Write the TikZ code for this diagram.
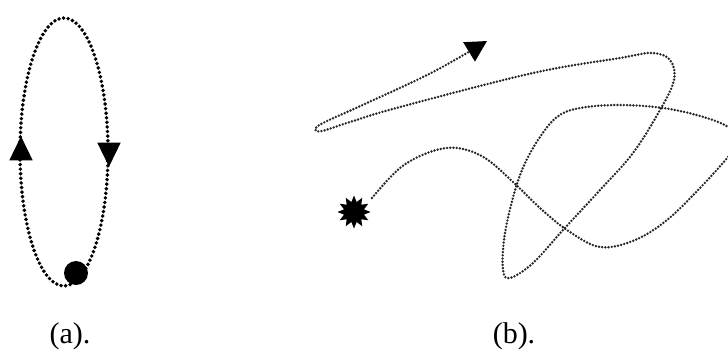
\documentclass[tikz,border=0pt]{standalone}
\usepackage{fontspec}
\setmainfont{Liberation Serif}
\newfontfamily\capfont{Liberation Serif}
\usetikzlibrary{arrows.meta, shapes.geometric}

\begin{document}
\begin{tikzpicture}[x=1pt, y=-1pt,
    bigdots/.style={line width=3.9pt, line cap=round, dash pattern=on 0pt off 4.6pt},
    finedots/.style={black!85, line width=2.7pt, line cap=round, dash pattern=on 0pt off 3.2pt},
    headtri/.style={isosceles triangle, isosceles triangle apex angle=52, fill, inner sep=0pt, minimum height=24pt},
    caption/.style={anchor=base, font=\capfont\fontsize{30}{34}\selectfont}]

  % =======================================================
  % FRAME
  % =======================================================
  \useasboundingbox (0,0) rectangle (728,351);
  \clip (0,0) rectangle (728,351);

  % =======================================================
  % (a) Closed orbit
  % =======================================================
  \draw[bigdots] (64,152) ellipse [x radius=44, y radius=134];
  \node (upHead) [headtri, shape border rotate=90] at (21,153) {};
  \node (downHead) [headtri, shape border rotate=-90] at (109,150) {};
  \node (body) [circle, fill, inner sep=0pt, minimum size=24pt] at (76,273) {};
  \node (capA) [caption] at (70,343) {(a).};

  % =======================================================
  % (b) Random walk
  % =======================================================
  \node (burst) [star, star points=12, star point ratio=1.6, fill, inner sep=0pt, minimum size=33pt] at (354,212) {};
  \draw[finedots, -{Triangle[length=21pt, width=22pt, black]}] plot[smooth, tension=0.6] coordinates {
      (372,198) (400,168) (430,152) (457,148) (485,158) (513,182) (540,208)
      (567,230) (600,247) (635,240) (667,220) (700,188) (728,157) (738,142)
      (728,127) (700,116) (663,108) (620,105) (580,108) (557,117) (538,140)
      (522,170) (511,205) (504,240) (503,270) (510,278) (533,263) (563,230)
      (600,190) (633,153) (660,110) (674,80) (670,60) (652,53) (620,58)
      (533,73) (400,107) (350,122) (322,131) (315,129) (325,122) (367,103)
      (433,72) (487,41)};
  \node (capB) [caption] at (514,343) {(b).};

\end{tikzpicture}
\end{document}
